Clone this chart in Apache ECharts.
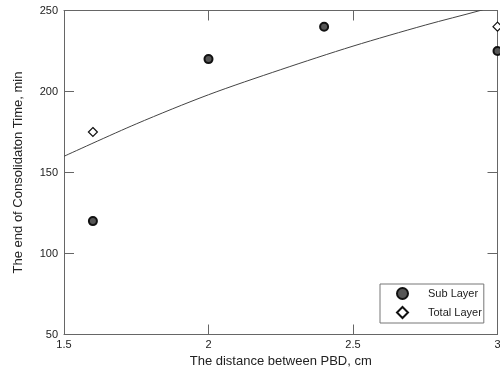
<!DOCTYPE html>
<html>
<head>
<meta charset="utf-8">
<script src="https://cdn.jsdelivr.net/npm/echarts@6/dist/echarts.min.js"></script>
<style>
html,body{margin:0;padding:0;background:#fff;}
#chart{width:500px;height:369px;}
</style>
</head>
<body>
<div id="chart"></div>
<script>
// Data
const subX = [1.6, 2.0, 2.4, 3.0];
const subY = [120, 220, 240, 225];
const totalX = [1.6, 3.0];
const totalY = [175, 240];
const curveX = [1.5, 1.75, 2.0, 2.25, 2.5, 2.75, 2.94, 3.0];
const curveY = [160, 180, 198, 213.5, 228, 241, 250, 253.5];
const xTicks = [1.5, 2, 2.5, 3];
const yTicks = [50, 100, 150, 200, 250];
const xTitle = 'The distance between PBD, cm';
const yTitle = 'The end of Consolidaton Time, min';
const seriesNames = ['Sub Layer', 'Total Layer'];

const pairs = (xs, ys) => xs.map((x, i) => [x, ys[i]]);
const FONT = 'Liberation Sans';
const axisCol = '#666';
const txtCol = '#222';

const baseX = {
  type: 'value', min: xTicks[0], max: xTicks[xTicks.length - 1], interval: 0.5,
  splitLine: { show: false },
  axisLine: { show: true, lineStyle: { color: axisCol, width: 1 } },
  axisTick: { show: true, inside: true, length: 10, lineStyle: { color: axisCol } }
};
const baseY = {
  type: 'value', min: yTicks[0], max: yTicks[yTicks.length - 1], interval: 50,
  splitLine: { show: false },
  axisLine: { show: true, lineStyle: { color: axisCol, width: 1 } },
  axisTick: { show: true, inside: true, length: 10, lineStyle: { color: axisCol } }
};

const chart = echarts.init(document.getElementById('chart'), null, { renderer: 'canvas' });
chart.setOption({
  animation: false,
  backgroundColor: '#fff',
  textStyle: { fontFamily: FONT },
  grid: { left: 64, right: 2.5, top: 10.5, bottom: 34.5, containLabel: false, outerBoundsMode: 'none' },
  xAxis: [
    Object.assign({}, baseX, {
      position: 'bottom',
      name: xTitle, nameLocation: 'middle', nameGap: 19,
      nameTextStyle: { fontFamily: FONT, fontSize: 13, color: txtCol },
      axisLabel: {
        margin: 5, fontFamily: FONT, fontSize: 11, color: txtCol,
        formatter: v => (xTicks.indexOf(v) >= 0 ? String(v) : '')
      }
    }),
    Object.assign({}, baseX, { position: 'top', axisLabel: { show: false } })
  ],
  yAxis: [
    Object.assign({}, baseY, {
      position: 'left',
      name: yTitle, nameLocation: 'middle', nameGap: 39, nameRotate: 90,
      nameTextStyle: { fontFamily: FONT, fontSize: 13, color: txtCol },
      axisLabel: {
        margin: 6, fontFamily: FONT, fontSize: 11, color: txtCol,
        formatter: v => (yTicks.indexOf(v) >= 0 ? String(v) : '')
      }
    }),
    Object.assign({}, baseY, { position: 'right', axisLabel: { show: false } })
  ],
  legend: {
    data: seriesNames,
    orient: 'vertical',
    left: 380, top: 284,
    padding: [3, 2, 4, 16],
    itemWidth: 11, itemHeight: 11, itemGap: 6,
    backgroundColor: '#fff',
    borderColor: '#777', borderWidth: 1,
    textStyle: { fontFamily: FONT, fontSize: 11, color: txtCol, padding: [0, 0, 0, 15] }
  },
  series: [
    {
      name: 'fit', type: 'line', data: pairs(curveX, curveY),
      smooth: 0.3, showSymbol: false, symbol: 'none', clip: true,
      lineStyle: { color: '#444', width: 1 }, silent: true
    },
    {
      name: seriesNames[0], type: 'scatter', data: pairs(subX, subY),
      symbol: 'circle', symbolSize: 8, clip: false,
      itemStyle: { color: '#555', borderColor: '#111', borderWidth: 2, opacity: 1 }
    },
    {
      name: seriesNames[1], type: 'scatter', data: pairs(totalX, totalY),
      symbol: 'diamond', symbolSize: 9, clip: false,
      itemStyle: { color: '#fff', borderColor: '#111', borderWidth: 1.2, opacity: 1 }
    }
  ]
});
</script>
</body>
</html>
